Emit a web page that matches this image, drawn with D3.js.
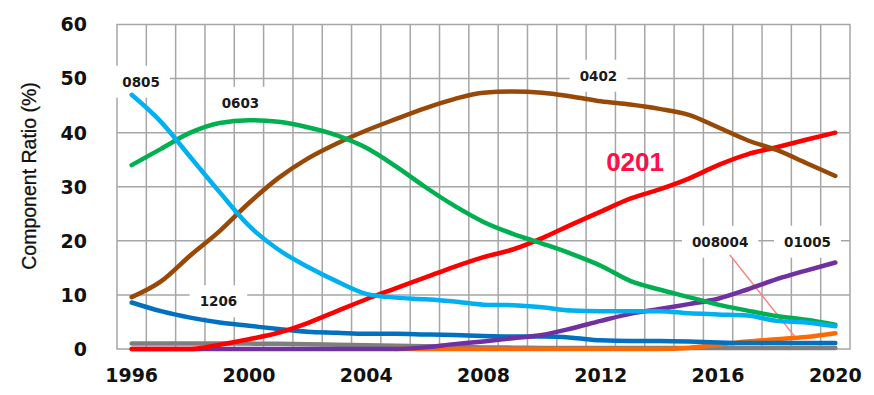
<!DOCTYPE html>
<html>
<head>
<meta charset="utf-8">
<script src="https://cdn.jsdelivr.net/npm/d3@7"></script>
<style>
  body { margin: 0; background: #fff; }
</style>
</head>
<body>
<svg id="chart" width="874" height="395"></svg>
<script>
const years = d3.range(1996, 2021);
const yTicks = [0, 10, 20, 30, 40, 50, 60];
const xTicks = [1996, 2000, 2004, 2008, 2012, 2016, 2020];

// component ratio (%) per year
const s0805 = [47, 42, 35.5, 29, 22.8, 18.4, 15.2, 12.5, 10.2, 9.5, 9.2, 8.8, 8.2, 8.1, 7.7, 7.1, 7, 7, 7, 6.6, 6.4, 6.2, 5.2, 4.9, 4.2];
const s0603 = [34, 37, 40, 41.8, 42.3, 42, 41, 39.5, 37.2, 33.8, 30, 26.5, 23.5, 21.3, 19.5, 17.6, 15.4, 12.6, 11, 9.6, 8.2, 7.1, 6.1, 5.4, 4.5];
const s0402 = [9.6, 12.5, 17.3, 21.8, 27, 31.6, 35.2, 38, 40.4, 42.5, 44.5, 46.2, 47.4, 47.6, 47.4, 46.7, 45.8, 45.2, 44.4, 43.3, 41, 38.6, 36.8, 34.4, 32];
const s0201 = [0, 0, 0, 0.8, 1.8, 3, 4.8, 7, 9.2, 11.2, 13.2, 15.2, 17, 18.4, 20.5, 23, 25.4, 27.8, 29.5, 31.5, 34, 36, 37.3, 38.7, 40];
const s1206 = [8.6, 7, 5.8, 4.9, 4.3, 3.7, 3.2, 3, 2.8, 2.8, 2.7, 2.6, 2.4, 2.3, 2.3, 2.1, 1.6, 1.5, 1.5, 1.4, 1.2, 1.1, 1.1, 1.1, 1.1];
const s01005 = [0, 0, 0, 0, 0, 0, 0, 0, 0, 0, 0.3, 0.9, 1.4, 2, 2.6, 3.8, 5.2, 6.5, 7.4, 8.3, 9.3, 11, 12.9, 14.5, 16];
const sGray = [1, 1, 1, 1, 1, 0.95, 0.9, 0.8, 0.7, 0.6, 0.5, 0.4, 0.3, 0.25, 0.2, 0.2, 0.2, 0.2, 0.2, 0.2, 0.2, 0.2, 0.2, 0.2, 0.2];
const s008004 = [null, null, null, null, null, null, null, null, null, 0, 0, 0, 0, 0, 0, 0, 0, 0, 0, 0.2, 0.8, 1.4, 1.8, 2.2, 2.9];

// drawing order, bottom first
const series = [
  { name: "gray", values: sGray, color: "#7f7f7f" },
  { name: "008004", values: s008004, color: "#ff6a00" },
  { name: "1206", values: s1206, color: "#0070c0" },
  { name: "01005", values: s01005, color: "#7030a0" },
  { name: "0201", values: s0201, color: "#ff0000" },
  { name: "0402", values: s0402, color: "#984807" },
  { name: "0603", values: s0603, color: "#00b050" },
  { name: "0805", values: s0805, color: "#00b0f0" }
];

// label positions in (year, %) units
const labels = [
  { text: "0805", yr: 1996.32, v: 49.4 },
  { text: "0603", yr: 1999.71, v: 45.5 },
  { text: "1206", yr: 1998.96, v: 8.8 },
  { text: "0402", yr: 2011.92, v: 50.5 },
  { text: "008004", yr: 2016.07, v: 19.8 },
  { text: "01005", yr: 2019.05, v: 19.8 }
];

const svg = d3.select("#chart");

const x = d3.scaleBand().domain(years).range([117, 850]).padding(0);
const y = d3.scaleLinear().domain([0, 60]).range([349, 24.5]);
const xc = yr => x(1996) + x.bandwidth() / 2 + (yr - 1996) * x.step();

const gridColor = "#a6a6a6";

// vertical grid at band edges
svg.append("g")
  .selectAll("line")
  .data(years.slice(1))
  .join("line")
  .attr("x1", d => x(d)).attr("x2", d => x(d))
  .attr("y1", y(60)).attr("y2", y(0))
  .attr("stroke", gridColor).attr("stroke-width", 1.5);

// horizontal grid
svg.append("g")
  .selectAll("line")
  .data(yTicks.slice(1, -1))
  .join("line")
  .attr("x1", 117).attr("x2", 850)
  .attr("y1", d => y(d)).attr("y2", d => y(d))
  .attr("stroke", gridColor).attr("stroke-width", 1.5);

svg.append("rect")
  .attr("x", 117).attr("y", y(60))
  .attr("width", 850 - 117).attr("height", y(0) - y(60))
  .attr("fill", "none")
  .attr("stroke", gridColor).attr("stroke-width", 1.5);

// label boxes + text
const lab = svg.append("g");
labels.forEach(l => {
  const t = lab.append("text")
    .attr("x", xc(l.yr))
    .attr("y", y(l.v))
    .attr("dy", "0.36em")
    .attr("text-anchor", "middle")
    .style("font-family", "DejaVu Sans, Verdana, sans-serif")
    .style("font-weight", "bold")
    .style("font-size", "13.5px")
    .attr("fill", "#1a1a1a")
    .text(l.text);
  const b = t.node().getBBox();
  lab.insert("rect", "text")
    .attr("x", b.x - 10).attr("y", b.y - 8)
    .attr("width", b.width + 20).attr("height", b.height + 16)
    .attr("fill", "#fff");
});

// pointer for 008004
svg.append("line")
  .attr("x1", xc(2016.4)).attr("y1", y(17.4))
  .attr("x2", xc(2018.63)).attr("y2", y(2.2))
  .attr("stroke", "#ff7c80").attr("stroke-width", 1.5);

const line = d3.line()
  .defined(d => d.v != null)
  .x(d => x(d.yr) + x.bandwidth() / 2)
  .y(d => y(d.v))
  .curve(d3.curveMonotoneX);

svg.append("g")
  .selectAll("path")
  .data(series)
  .join("path")
  .attr("d", s => line(s.values.map((v, i) => ({ yr: years[i], v }))))
  .attr("fill", "none")
  .attr("stroke", s => s.color)
  .attr("stroke-width", 4.5)
  .attr("stroke-linecap", "round")
  .attr("stroke-linejoin", "round");

// big 0201 label
svg.append("text")
  .attr("x", xc(2013.17))
  .attr("y", y(34.6))
  .attr("dy", "0.36em")
  .attr("text-anchor", "middle")
  .style("font-family", "Liberation Sans, Arial, sans-serif")
  .style("font-weight", "bold")
  .style("font-size", "26px")
  .attr("fill", "#ff0f45")
  .text("0201");

// axes labels
svg.append("g")
  .selectAll("text")
  .data(yTicks)
  .join("text")
  .attr("x", 87)
  .attr("y", d => y(d))
  .attr("dy", "0.36em")
  .attr("text-anchor", "end")
  .style("font-family", "DejaVu Sans, Verdana, sans-serif")
  .style("font-weight", "bold")
  .style("font-size", "19px")
  .attr("fill", "#111")
  .text(d => d);

svg.append("g")
  .selectAll("text")
  .data(xTicks)
  .join("text")
  .attr("x", d => x(d) + x.bandwidth() / 2)
  .attr("y", 382)
  .attr("text-anchor", "middle")
  .style("font-family", "DejaVu Sans, Verdana, sans-serif")
  .style("font-weight", "bold")
  .style("font-size", "19px")
  .attr("fill", "#111")
  .text(d => d);

svg.append("text")
  .attr("transform", "translate(36,176) rotate(-90)")
  .attr("text-anchor", "middle")
  .style("font-family", "Liberation Sans, Arial, sans-serif")
  .style("font-size", "19.5px")
  .attr("fill", "#111")
  .attr("stroke", "#111")
  .attr("stroke-width", 0.3)
  .text("Component Ratio (%)");
</script>
</body>
</html>
